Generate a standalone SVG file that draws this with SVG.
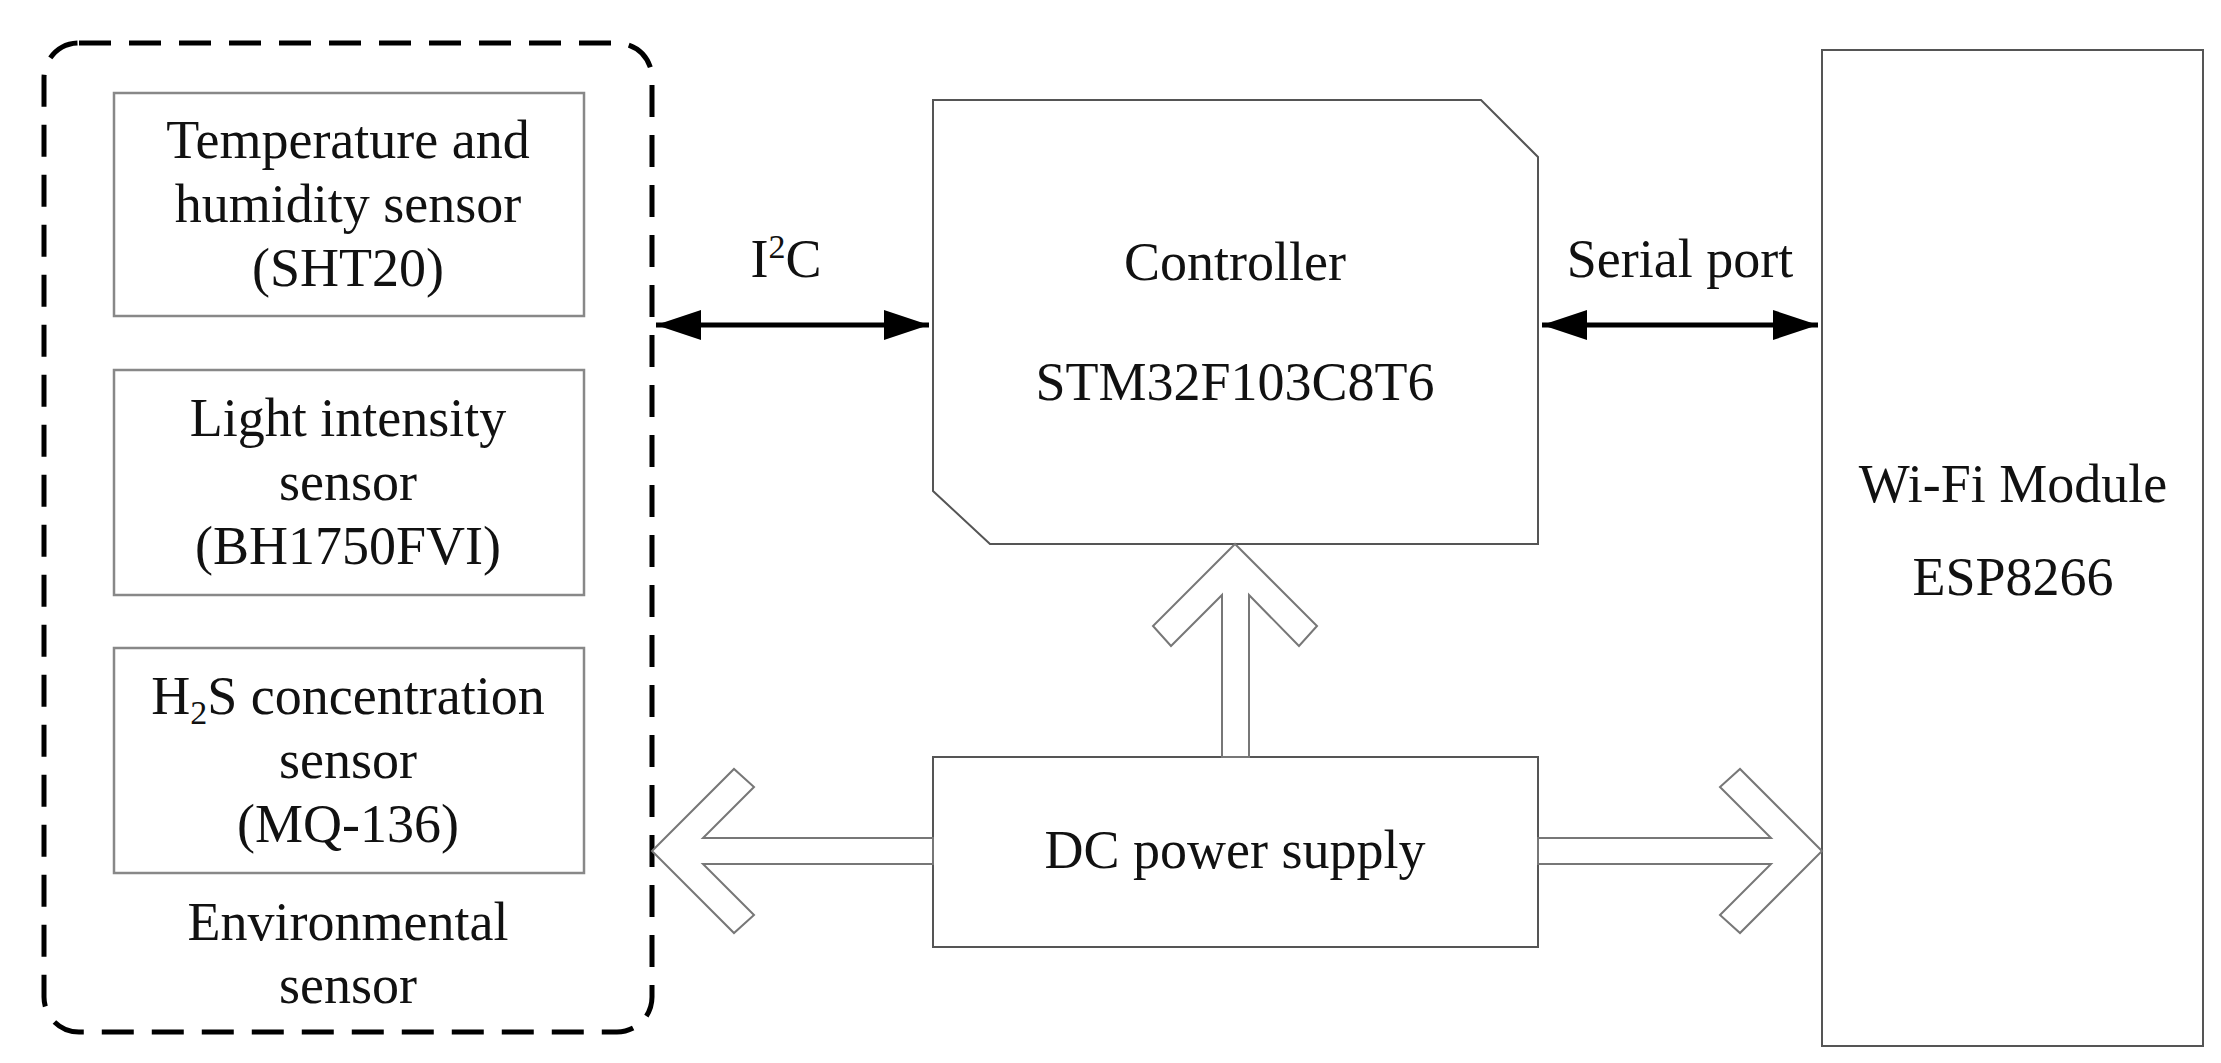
<svg xmlns="http://www.w3.org/2000/svg" width="2221" height="1063" viewBox="0 0 2221 1063">
<style>
text{font-family:"Liberation Serif","Times New Roman",serif;font-size:54px;fill:#111;text-anchor:middle}
.box{fill:#fff;stroke:#555;stroke-width:2}
.sbox{fill:#fff;stroke:#888;stroke-width:2.5}
.hol{fill:#fff;stroke:#777;stroke-width:2}
</style>
<defs>
<marker id="ah" viewBox="0 0 10 10" refX="10" refY="5" markerWidth="9" markerHeight="6" markerUnits="strokeWidth" orient="auto-start-reverse" preserveAspectRatio="none"><path d="M0,0L10,5L0,10z" fill="#000"/></marker>
</defs>
<rect width="2221" height="1063" fill="#fff"/>
<g id="env">
<rect x="44" y="43" width="608" height="989" rx="35" fill="none" stroke="#000" stroke-width="5" stroke-dasharray="32 18"/>
<text x="348" y="940">Environmental</text>
<text x="348" y="1003">sensor</text>
</g>
<g id="sht20"><rect class="sbox" x="114" y="93" width="470" height="223"/>
<text x="348" y="158">Temperature and</text><text x="348" y="222">humidity sensor</text><text x="348" y="286">(SHT20)</text></g>
<g id="bh1750"><rect class="sbox" x="114" y="370" width="470" height="225"/>
<text x="348" y="436">Light intensity</text><text x="348" y="500">sensor</text><text x="348" y="564">(BH1750FVI)</text></g>
<g id="mq136"><rect class="sbox" x="114" y="648" width="470" height="225"/>
<text x="348" y="714">H<tspan font-size="34" dy="10">2</tspan><tspan dy="-10">S concentration</tspan></text><text x="348" y="778">sensor</text><text x="348" y="842">(MQ-136)</text></g>
<g id="controller"><path class="box" d="M933,100H1481L1538,157V544H990L933,491Z"/>
<text x="1235" y="280">Controller</text><text x="1235" y="400">STM32F103C8T6</text></g>
<g id="wifi"><rect class="box" x="1822" y="50" width="381" height="996"/>
<text x="2013" y="502">Wi-Fi Module</text><text x="2013" y="595">ESP8266</text></g>
<g id="dc"><rect class="box" x="933" y="757" width="605" height="190"/>
<text x="1235" y="868">DC power supply</text></g>
<g id="connectors">
<line x1="656" y1="325" x2="929" y2="325" stroke="#000" stroke-width="5" marker-start="url(#ah)" marker-end="url(#ah)"/>
<line x1="1542" y1="325" x2="1818" y2="325" stroke="#000" stroke-width="5" marker-start="url(#ah)" marker-end="url(#ah)"/>
<text x="786" y="277">I<tspan font-size="34" dy="-19">2</tspan><tspan dy="19">C</tspan></text>
<text x="1680" y="277">Serial port</text>
<polygon class="hol" points="1235,544 1153,626 1171,646 1222,595 1222,757 1249,757 1249,595 1299,646 1317,626"/>
<polygon class="hol" points="652,851 734,769 754,787 703,838 933,838 933,864 703,864 754,915 734,933"/>
<polygon class="hol" points="1822,851 1740,769 1720,787 1771,838 1538,838 1538,864 1771,864 1720,915 1740,933"/>
</g>
</svg>
